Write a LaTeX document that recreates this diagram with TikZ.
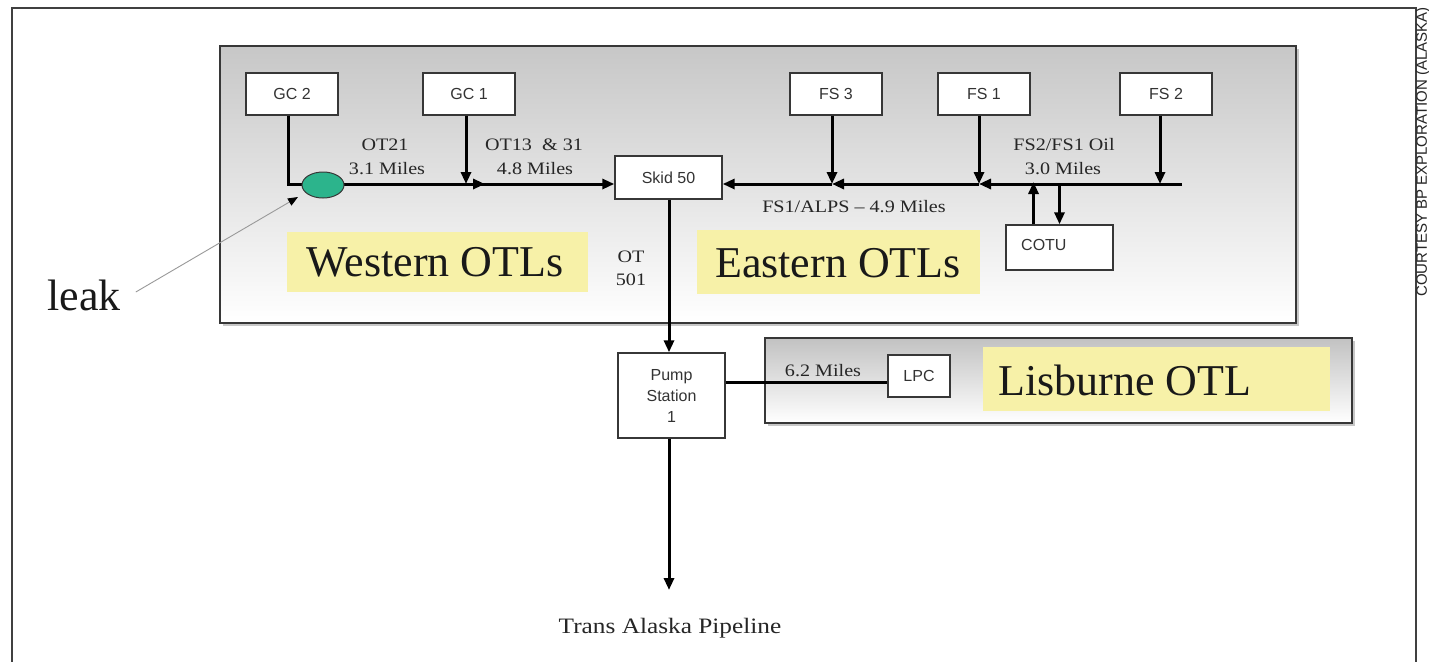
\documentclass[tikz,border=0pt]{standalone}
\usepackage{fontspec}
\setmainfont{Liberation Serif}
\newfontfamily\boxfont{Liberation Sans}
\newfontfamily\labfont[FakeStretch=1.15]{Liberation Serif}
\usetikzlibrary{arrows.meta,shapes.geometric}
\definecolor{tagyellow}{RGB}{247,241,168}
\definecolor{leakgreen}{RGB}{44,180,140}
\definecolor{edge}{RGB}{55,55,55}
\begin{document}
\begin{tikzpicture}[x=1pt,y=-1pt,
  unit/.style={draw=edge, line width=1.4pt, fill=white, inner sep=0pt,
    minimum width=92pt, minimum height=42pt,
    font=\boxfont\fontsize{16}{19}\selectfont, text=black!80},
  pipe/.style={line width=3pt, black},
  flow/.style={pipe, -{Triangle[length=12pt,width=10pt]}},
  dist/.style={font=\labfont\fontsize{17.5}{22}\selectfont, text=black!85, inner sep=0pt},
  tag/.style={fill=tagyellow, inner sep=0pt},
  bigtext/.style={font=\fontsize{44}{48}\selectfont, text=black!90, inner sep=0pt},
  panelshadow/.style={fill=black!22},
  paneledge/.style={draw=edge, line width=1.4pt},
]
\useasboundingbox (0,0) rectangle (1429,661);
\fill[white] (0,0) rectangle (1429,661);

% outer frame and credit line
\draw[black!75, line width=1.6pt] (12,665) -- (12,8) -- (1416,8) -- (1416,665);
\node[rotate=90, inner sep=0pt, font=\boxfont\fontsize{15}{15}\selectfont, text=black!85]
  (credit) at (1423,152) {COURTESY BP EXPLORATION (ALASKA)};

% upper panel: Western and Eastern lines
\fill[panelshadow] (223,49) rectangle (1299,326);
\shade[top color=black!22, middle color=black!8, bottom color=white] (220,46) rectangle (1296,323);
\draw[paneledge] (220,46) rectangle (1296,323);

% Lisburne panel
\fill[panelshadow] (768,341) rectangle (1355,426);
\shade[top color=black!24, middle color=black!6, bottom color=white] (765,338) rectangle (1352,423);
\draw[paneledge] (765,338) rectangle (1352,423);

% region tags
\node[tag, minimum width=301pt, minimum height=60pt] (westtag) at (437.5,262) {};
\node[bigtext] (westtxt) at (435,262) {Western OTLs};
\node[tag, minimum width=283pt, minimum height=64pt] (easttag) at (838.5,262) {};
\node[bigtext] (easttxt) at (838,263) {Eastern OTLs};
\node[tag, minimum width=347pt, minimum height=64pt] (lisbtag) at (1156.5,379) {};
\node[bigtext, anchor=west] (lisbtxt) at (998,380) {Lisburne OTL};

% facilities
\node[unit] (gc2) at (292,94) {GC 2};
\node[unit] (gc1) at (469,94) {GC 1};
\node[unit] (fs3) at (836,94) {FS 3};
\node[unit] (fs1) at (984,94) {FS 1};
\node[unit] (fs2) at (1166,94) {FS 2};
\node[unit, minimum width=107pt, minimum height=43pt] (skid) at (668.5,177.5) {Skid 50};
\node[unit, minimum width=107pt, minimum height=45pt] (cotu) at (1059.5,247.5) {};
\node[inner sep=0pt, anchor=west, font=\boxfont\fontsize{16}{19}\selectfont, text=black!80]
  (cotutxt) at (1021,245) {COTU};
\node[unit, minimum width=107pt, minimum height=85pt, align=center,
  font=\boxfont\fontsize{16}{21}\selectfont] (pump) at (671.5,395.5) {Pump\\Station\\1};
\node[unit, minimum width=62pt, minimum height=42pt] (lpc) at (919,376) {LPC};

% trunk line levels
\coordinate (trunk) at (0,184);
\coordinate (lisline) at (0,382);
\coordinate (eend) at (1182,184);
\coordinate (tapend) at (669,590);

% western line into Skid 50
\draw[flow] ([xshift=-4pt]gc2.south) |- (skid.west |- trunk);
\draw[flow] ([xshift=-3pt]gc1.south) -- ([xshift=-3pt]gc1.south |- trunk);
\draw[flow] ([xshift=-3pt]gc1.south |- trunk) -- ++(19,0);

% eastern line into Skid 50
\draw[flow] (eend) -- ([xshift=-5pt]fs1.south |- trunk);
\draw[flow] ([xshift=-5pt]fs1.south |- trunk) -- ([xshift=-4pt]fs3.south |- trunk);
\draw[flow] ([xshift=-4pt]fs3.south |- trunk) -- (skid.east |- trunk);
\draw[flow] ([xshift=-4pt]fs3.south) -- ([xshift=-4pt]fs3.south |- trunk);
\draw[flow] ([xshift=-5pt]fs1.south) -- ([xshift=-5pt]fs1.south |- trunk);
\draw[flow] ([xshift=-6pt]fs2.south) -- ([xshift=-6pt]fs2.south |- trunk);

% COTU exchange
\draw[flow] ([xshift=-26pt]cotu.north) -- ([xshift=-26pt,yshift=2pt]cotu.north |- trunk);
\draw[flow] (cotu.north |- trunk) -- (cotu.north);

% OT 501 to Pump Station 1, Lisburne line, and on to TAPS
\draw[flow] (tapend |- skid.south) -- (tapend |- pump.north);
\draw[pipe] (pump.east |- lisline) -- (lpc.west |- lisline);
\draw[flow] (tapend |- pump.south) -- (tapend);

% leak location
\node[ellipse, draw=edge, line width=1pt, fill=leakgreen, inner sep=0pt,
  minimum width=42pt, minimum height=26pt] (spot) at (323,185) {};
\node[bigtext] (leak) at (84,295) {leak};
\coordinate (leaktip) at (298,197);
\draw[black!40, line width=0.9pt, -{Triangle[length=10pt,width=8pt,color=black]}]
  ([xshift=15pt,yshift=3pt]leak.east) -- (leaktip);

% line labels
\node[dist] (ot21) at (385,145) {OT21};
\node[dist] (ot21mi) at (387,169) {3.1 Miles};
\node[dist] (ot13) at (534,145) {OT13 \ \& 31};
\node[dist] (ot13mi) at (535,169) {4.8 Miles};
\node[dist] (fsoil) at (1064,145) {FS2/FS1 Oil};
\node[dist] (fsoilmi) at (1063,169) {3.0 Miles};
\node[dist] (alps) at (854,207) {FS1/ALPS – 4.9 Miles};
\node[dist, align=center, font=\labfont\fontsize{17.5}{23}\selectfont] (ot501) at (631,268) {OT\\501};
\node[dist] (lisbmi) at (823,371) {6.2 Miles};
\node[dist, font=\labfont\fontsize{22}{26}\selectfont] (taps) at (670,628) {Trans Alaska Pipeline};
\end{tikzpicture}
\end{document}
